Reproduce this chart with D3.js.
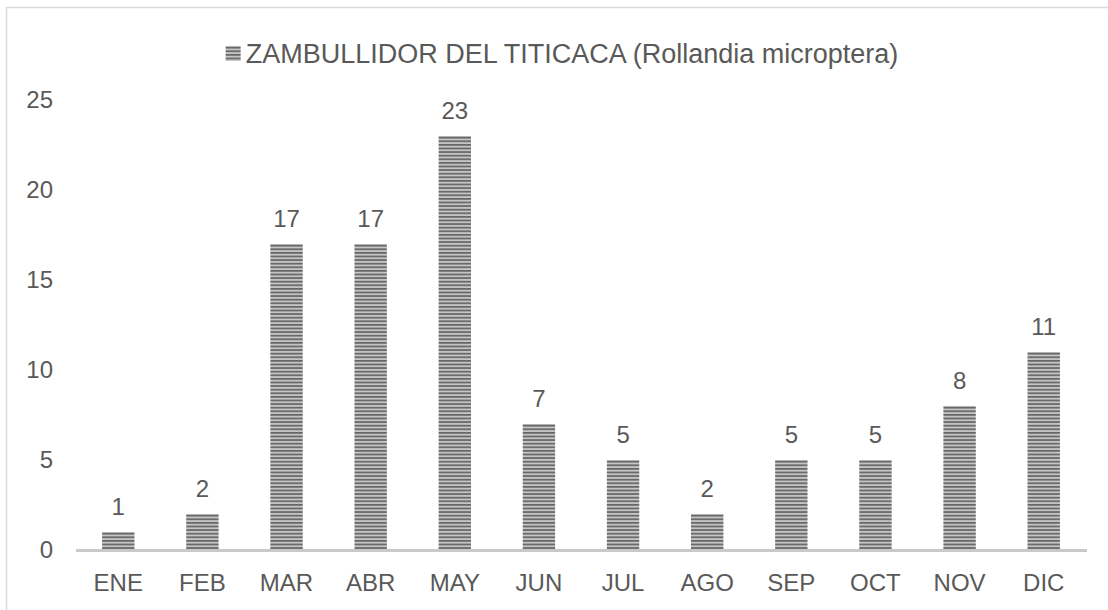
<!DOCTYPE html>
<html>
<head>
<meta charset="utf-8">
<script src="https://cdn.jsdelivr.net/npm/d3@7"></script>
<style>
  body { margin: 0; background: #fff; }
  text { font-family: "Liberation Sans", Arial, sans-serif; fill: #595959; }
</style>
</head>
<body>
<div id="chart"></div>
<script>
const months = ["ENE","FEB","MAR","ABR","MAY","JUN","JUL","AGO","SEP","OCT","NOV","DIC"];
const counts = [1, 2, 17, 17, 23, 7, 5, 2, 5, 5, 8, 11];
const yTicks = [0, 5, 10, 15, 20, 25];
const seriesName = "ZAMBULLIDOR DEL TITICACA (Rollandia microptera)";

const width = 1108, height = 610;
const margin = {top: 100, right: 22, bottom: 60, left: 76};

const svg = d3.select("#chart").append("svg")
  .attr("width", width)
  .attr("height", height);

// striped fill like the excel pattern
const defs = svg.append("defs");
const pat = defs.append("pattern")
  .attr("id", "stripes")
  .attr("patternUnits", "userSpaceOnUse")
  .attr("width", 8).attr("height", 3.6);
pat.append("rect").attr("width", 8).attr("height", 3.6).attr("fill", "#c4c4c4");
pat.append("rect").attr("y", 0).attr("width", 8).attr("height", 1.7).attr("fill", "#666666");

// chart border
svg.append("rect")
  .attr("x", 6.5).attr("y", 7.5)
  .attr("width", width + 10).attr("height", height + 10)
  .attr("fill", "none")
  .attr("stroke", "#d9d9d9")
  .attr("stroke-width", 1.5);

const x = d3.scaleBand()
  .domain(months)
  .range([margin.left, width - margin.right])
  .paddingInner(0.615)
  .paddingOuter(0.31);

const y = d3.scaleLinear()
  .domain([0, 25])
  .range([height - margin.bottom, margin.top]);

// y tick labels (no gridlines)
svg.append("g").selectAll("text")
  .data(yTicks)
  .join("text")
  .attr("x", 53)
  .attr("y", d => y(d))
  .attr("dy", "0.35em")
  .attr("text-anchor", "end")
  .attr("font-size", 24)
  .text(d => d);

// bars
svg.append("g").selectAll("rect")
  .data(counts)
  .join("rect")
  .attr("x", (d, i) => x(months[i]))
  .attr("y", d => y(d))
  .attr("width", x.bandwidth())
  .attr("height", d => y(0) - y(d))
  .attr("fill", "url(#stripes)");

// axis line
svg.append("line")
  .attr("x1", margin.left).attr("x2", width - margin.right + 1)
  .attr("y1", y(0) + 0.5).attr("y2", y(0) + 0.5)
  .attr("stroke", "#c9c9c9")
  .attr("stroke-width", 3);

// month labels
svg.append("g").selectAll("text")
  .data(months)
  .join("text")
  .attr("x", d => x(d) + x.bandwidth() / 2)
  .attr("y", y(0) + 41)
  .attr("text-anchor", "middle")
  .attr("font-size", 24)
  .text(d => d);

// value labels
svg.append("g").selectAll("text")
  .data(counts)
  .join("text")
  .attr("x", (d, i) => x(months[i]) + x.bandwidth() / 2)
  .attr("y", d => y(d) - 17)
  .attr("text-anchor", "middle")
  .attr("font-size", 24)
  .text(d => d);

// legend
const legend = svg.append("g");
const legText = legend.append("text")
  .attr("x", 253)
  .attr("y", 63)
  .attr("font-size", 27)
  .text(seriesName);
const tw = legText.node().getComputedTextLength();
const lx = (width - (tw + 20)) / 2 + 8;
legText.attr("x", lx + 20);
legend.append("rect")
  .attr("x", lx).attr("y", 46)
  .attr("width", 15).attr("height", 15)
  .attr("fill", "url(#stripes)");
</script>
</body>
</html>
